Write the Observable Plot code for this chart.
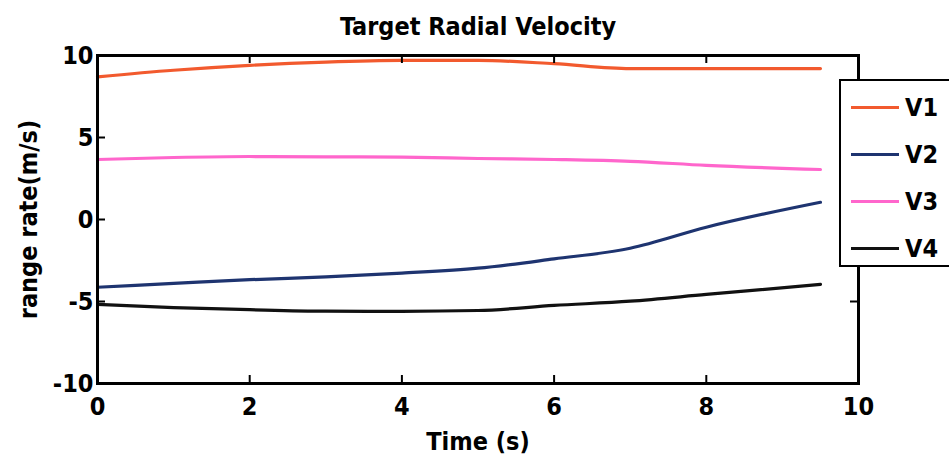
<!DOCTYPE html>
<html><head><meta charset="utf-8">
<script src="https://cdn.jsdelivr.net/npm/d3@7"></script>
<script src="https://cdn.jsdelivr.net/npm/@observablehq/plot@0.6"></script>
<style>
html,body{margin:0;padding:0;background:#fff;overflow:hidden;}
#wrap{position:relative;width:949px;height:455px;}
.f{font-family:"Liberation Sans Narrow","Arial Narrow","DejaVu Sans Condensed",sans-serif;font-weight:bold;}
#legend{position:absolute;left:839px;top:79px;width:130px;height:188px;background:#fff;border:2.5px solid #000;box-sizing:border-box;}
.item{position:absolute;left:10px;height:30px;display:flex;align-items:center;font-size:25px;color:#000;}
.item span.sw{display:inline-block;width:48px;height:3px;margin-right:6px;}
</style></head>
<body><div id="wrap"></div>
<script>
const times = [0, 1, 2, 3, 4, 5, 6, 7, 8, 9.5];
const v1 = [8.7, 9.1, 9.4, 9.6, 9.7, 9.7, 9.5, 9.2, 9.2, 9.2];
const v2 = [-4.13, -3.9, -3.67, -3.5, -3.27, -2.97, -2.4, -1.75, -0.47, 1.05];
const v3 = [3.66, 3.78, 3.84, 3.82, 3.8, 3.72, 3.66, 3.55, 3.3, 3.05];
const v4 = [-5.18, -5.37, -5.5, -5.59, -5.6, -5.55, -5.24, -4.98, -4.57, -3.96];
const seriesNames = ["V1", "V2", "V3", "V4"];
const seriesValues = [v1, v2, v3, v4];
const colors = ["#f25a2e", "#1e3470", "#ff66cc", "#111111"];
const xTicks = [0, 2, 4, 6, 8, 10];
const yTicks = [-10, -5, 0, 5, 10];
const title = "Target Radial Velocity";
const xLabel = "Time (s)";
const yLabel = "range rate(m/s)";

const rows = [];
seriesNames.forEach((s, i) => times.forEach((t, j) => rows.push({series: s, t, v: seriesValues[i][j]})));

const W = 949, H = 455, mL = 97, mR = 91, mT = 55, mB = 72, tick = 8;
const innerW = W - mL - mR, innerH = H - mT - mB;
const fmt = d => String(d);
const font = '"Liberation Sans Narrow","Arial Narrow","DejaVu Sans Condensed",sans-serif';
const chart = Plot.plot({
  width: W, height: H,
  marginLeft: mL, marginRight: mR, marginTop: mT, marginBottom: mB,
  style: {fontFamily: font, fontWeight: "bold", fontSize: "25px", color: "#000", background: "#fff"},
  x: {domain: [0, 10]},
  y: {domain: [-10, 10]},
  color: {domain: seriesNames, range: colors},
  marks: [
    Plot.line(rows, {x: "t", y: "v", z: "series", stroke: "series", strokeWidth: 3.2, curve: "monotone-x"}),
    Plot.tickX(xTicks, {x: d => d, insetTop: innerH - tick, stroke: "#000", strokeWidth: 2}),
    Plot.tickX(xTicks, {x: d => d, insetBottom: innerH - tick, stroke: "#000", strokeWidth: 2}),
    Plot.tickY(yTicks, {y: d => d, insetRight: innerW - tick, stroke: "#000", strokeWidth: 2}),
    Plot.tickY(yTicks, {y: d => d, insetLeft: innerW - tick, stroke: "#000", strokeWidth: 2}),
    Plot.frame({stroke: "#000", strokeWidth: 3}),
    Plot.axisX(xTicks, {anchor: "bottom", tickSize: 0, tickPadding: 14, fontSize: 25, tickFormat: fmt, label: xLabel, labelAnchor: "center", labelOffset: 66, labelArrow: "none"}),
    Plot.axisY(yTicks, {anchor: "left", tickSize: 0, tickPadding: 4, fontSize: 25, tickFormat: fmt, label: yLabel, labelAnchor: "center", labelOffset: 78, labelArrow: "none"}),
    Plot.text([title], {frameAnchor: "top", dy: -38, fontSize: 25, fontWeight: "bold", fill: "#000"})
  ]
});
const wrap = document.getElementById("wrap");
wrap.appendChild(chart);

const legend = document.createElement("div");
legend.id = "legend";
legend.className = "f";
seriesNames.forEach((s, i) => {
  const it = document.createElement("div");
  it.className = "item f";
  it.style.top = (11 + i * 47) + "px";
  const sw = document.createElement("span");
  sw.className = "sw";
  sw.style.background = colors[i];
  it.appendChild(sw);
  it.appendChild(document.createTextNode(s));
  legend.appendChild(it);
});
wrap.appendChild(legend);
</script></body></html>
